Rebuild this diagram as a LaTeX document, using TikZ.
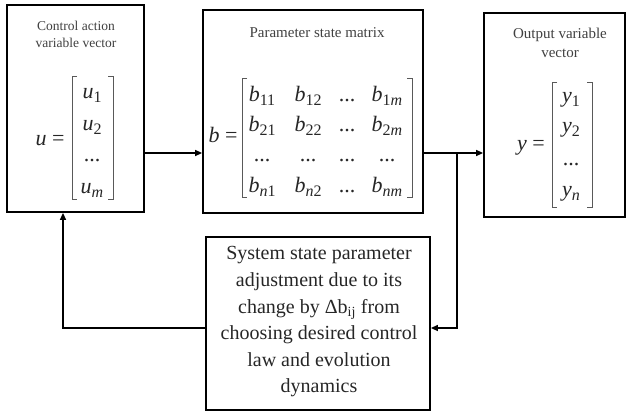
\documentclass[tikz,border=0pt]{standalone}
\usepackage{fontspec}
\setmainfont{Liberation Serif}
\usetikzlibrary{arrows.meta}
\newcommand{\mv}[2]{\textit{#1}\raisebox{-0.22em}{\fontsize{16}{16}\selectfont #2}}
\newcommand{\dd}{{.}{.}{.}}
\begin{document}
\begin{tikzpicture}[x=1pt,y=-1pt,
  box/.style={draw, line width=1.8pt, inner sep=0pt},
  conn/.style={line width=1.3pt},
  arr/.style={conn,-{Triangle[length=7pt,width=6pt]}},
  brk/.style={line width=0.7pt, draw=black!65},
  ttlA/.style={font=\fontsize{13.5}{17}\selectfont, text=black!75, align=center, inner sep=0pt},
  ttlB/.style={font=\fontsize{15}{19}\selectfont, text=black!75, align=center, inner sep=0pt},
  mth/.style={font=\fontsize{22}{25}\selectfont, anchor=base, inner sep=0pt, text=black!85},
  body/.style={font=\fontsize{20}{26.6}\selectfont, text=black!85, align=center, inner sep=0pt}]
\useasboundingbox (0,0) rectangle (629,412);

% boxes
\node[box, minimum width=137pt, minimum height=207pt] (ctrl) at (75.5,108.5) {};
\node[box, minimum width=220pt, minimum height=203pt] (param) at (313,111.5) {};
\node[box, minimum width=141pt, minimum height=204pt] (out) at (554.5,115) {};
\node[box, minimum width=224pt, minimum height=173pt] (sys) at (318,323.5) {};

% titles
\node[ttlA] (ctrlT) at (76,34) {Control action\\variable vector};
\node[ttlB] (paramT) at (317,33) {Parameter state matrix};
\node[ttlB] (outT) at (560,43) {Output variable\\vector};

% u vector
\node[mth] (ueq) at (50,145) {\textit{u} =};
\node[mth] (u1) at (92,98) {\mv{u}{1}};
\node[mth] (u2) at (92,130) {\mv{u}{2}};
\node[mth] (u3) at (92,161) {\dd};
\node[mth] (um) at (92,193) {\mv{u}{\textit{m}}};
\draw[brk] (77,76) -- (72,76) -- (72,199) -- (77,199);
\draw[brk] (108,76) -- (113,76) -- (113,199) -- (108,199);

% b matrix
\node[mth] (beq) at (223,142) {\textit{b} =};
\foreach \r/\y/\a/\b/\c/\d in {1/101/\mv{b}{11}/\mv{b}{12}/\dd/\mv{b}{1\textit{m}},
                             2/131/\mv{b}{21}/\mv{b}{22}/\dd/\mv{b}{2\textit{m}},
                             3/161/\dd/\dd/\dd/\dd,
                             4/192/\mv{b}{\textit{n}1}/\mv{b}{\textit{n}2}/\dd/\mv{b}{\textit{nm}}}{
  \node[mth] (b\r a) at (262,\y) {\a};
  \node[mth] (b\r b) at (308,\y) {\b};
  \node[mth] (b\r c) at (347,\y) {\c};
  \node[mth] (b\r d) at (387,\y) {\d};
}
\draw[brk] (247,78) -- (242,78) -- (242,197) -- (247,197);
\draw[brk] (407,78) -- (412,78) -- (412,197) -- (407,197);

% y vector
\node[mth] (yeq) at (531,150) {\textit{y} =};
\node[mth] (y1) at (571,102) {\mv{y}{1}};
\node[mth] (y2) at (571,132) {\mv{y}{2}};
\node[mth] (y3) at (571,165) {\dd};
\node[mth] (yn) at (571,196) {\mv{y}{\textit{n}}};
\draw[brk] (557,82) -- (552,82) -- (552,207) -- (557,207);
\draw[brk] (587,82) -- (592,82) -- (592,207) -- (587,207);

% system box text
\node[body] (sysT) at (319,322) {System state parameter\\adjustment due to its\\change by Δb\textsubscript{ij} from\\choosing desired control\\law and evolution\\dynamics};

% connectors
\coordinate (ya) at (0,153);
\coordinate (yb) at (0,328);
\coordinate (br) at (457,153);
\coordinate (fx) at (63,0);
\draw[arr] (ctrl.east |- ya) -- (param.west |- ya);
\draw[arr] (param.east |- ya) -- (out.west |- ya);
\draw[arr] (br) -- (br |- yb) -- (sys.east |- yb);
\draw[arr] (sys.west |- yb) -- (fx |- yb) -- (fx |- ctrl.south);
\end{tikzpicture}
\end{document}
